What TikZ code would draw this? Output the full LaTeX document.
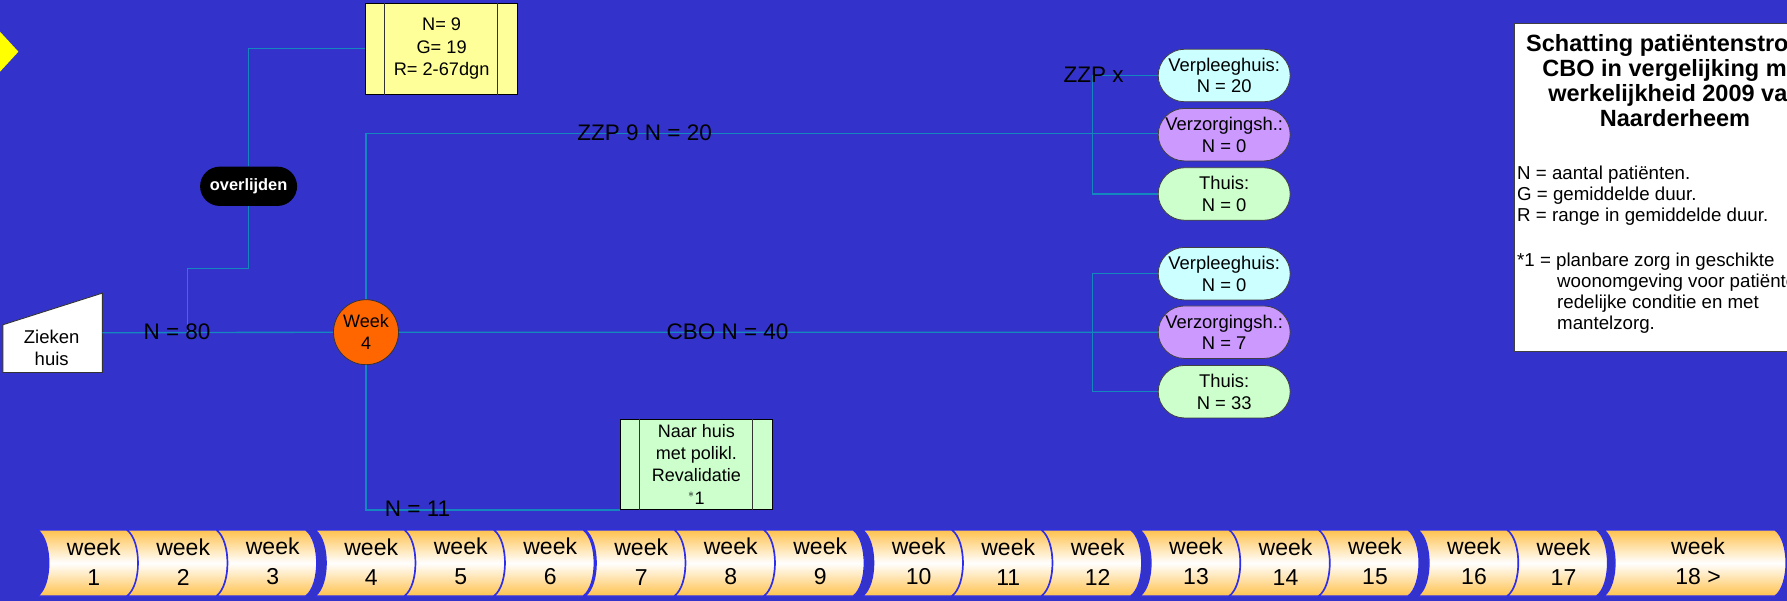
\documentclass[tikz,border=0pt]{standalone}
\usepackage{fontspec}
\setmainfont{Liberation Sans}
\usetikzlibrary{shapes.misc,calc}
\definecolor{bgc}{RGB}{51,51,204}
\definecolor{connc}{RGB}{20,136,190}
\definecolor{ylw}{RGB}{255,255,153}
\definecolor{lgreen}{RGB}{204,255,204}
\definecolor{lcyan}{RGB}{204,255,255}
\definecolor{lpurple}{RGB}{204,153,255}
\definecolor{orng}{RGB}{255,102,0}
\definecolor{barorange}{RGB}{255,194,78}
\definecolor{barline}{RGB}{45,45,235}
\definecolor{dmd}{RGB}{255,255,0}
\tikzset{
  connector/.style={draw=connc,line width=1.4pt},
  lbl/.style={font=\fontsize{22.5}{26}\selectfont,text=black,inner sep=0pt},
  capsule/.style={rounded rectangle,draw=black!75,line width=0.8pt,minimum width=132pt,minimum height=52.5pt,inner sep=0pt,align=center,font=\fontsize{18.4}{21.7}\selectfont},
  procbox/.style={rectangle,draw=black,line width=0.9pt,inner sep=0pt,align=center,font=\fontsize{18.2}{22.6}\selectfont},
  wktxt/.style={inner sep=0pt,align=center,font=\fontsize{23}{30}\selectfont},
  segm/.style={top color=barorange,bottom color=barorange,middle color=white,draw=barline,line width=1.2pt},
  legtxt/.style={anchor=base west,inner sep=0pt,font=\fontsize{18.7}{21}\selectfont}
}
\begin{document}
\begin{tikzpicture}[x=1pt,y=-1pt]
\useasboundingbox (0,0) rectangle (1787,601);
\clip (0,0) rectangle (1787,601);
\fill[bgc] (0,0) rectangle (1787,601);

% diamond at left edge
\fill[dmd] (18.4,51.7) -- (-5,26.3) -- (-28.4,51.7) -- (-5,77.1) -- cycle;

% nodes
\node[procbox,fill=ylw,minimum width=151.5pt,minimum height=91pt] (yb) at (441.6,48.8) {N= 9\\G= 19\\R= 2-67dgn};
\draw[black!80,line width=0.8pt] ([xshift=19.3pt]yb.north west) -- ([xshift=19.3pt]yb.south west)
  ([xshift=-20pt]yb.north east) -- ([xshift=-20pt]yb.south east);

\node[rounded rectangle,fill=black,minimum width=97pt,minimum height=39.3pt,inner sep=0pt,text=white,font=\bfseries\fontsize{16.4}{19}\selectfont] (ov) at (248.6,186.3) {overlijden};

\node[minimum width=99.2pt,minimum height=79pt,inner sep=0pt] (zh) at (52.6,332.8) {};
\draw[fill=white,draw=black!80,line width=0.9pt] (zh.south west) -- (zh.south east) -- (zh.north east) -- ($(zh.north west)+(0,31.7)$) -- cycle;
\node[inner sep=0pt,align=center,font=\fontsize{18.5}{22.3}\selectfont] (zht) at (51.7,347.9) {Zieken\\huis};

\node[circle,fill=orng,draw=black!80,line width=0.8pt,minimum size=65pt,inner sep=0pt,align=center,font=\fontsize{18}{22.3}\selectfont] (wk) at (366,332.2) {Week\\4};

\node[procbox,fill=lgreen,minimum width=152.7pt,minimum height=90.3pt,font=\fontsize{18}{22.2}\selectfont] (nh) at (696.4,464.2) {Naar huis\\met polikl.\\Revalidatie\\$^{*}$1};
\draw[black!80,line width=0.8pt] ([xshift=19.3pt]nh.north west) -- ([xshift=19.3pt]nh.south west)
  ([xshift=-20.4pt]nh.north east) -- ([xshift=-20.4pt]nh.south east);

\node[capsule,fill=lcyan] (a1) at (1224.2,75.5) {Verpleeghuis:\\N = 20};
\node[capsule,fill=lpurple] (a2) at (1224.2,134.7) {Verzorgingsh.:\\N = 0};
\node[capsule,fill=lgreen] (a3) at (1224.2,194) {Thuis:\\N = 0};
\node[capsule,fill=lcyan] (b1) at (1224.2,273.7) {Verpleeghuis:\\N = 0};
\node[capsule,fill=lpurple] (b2) at (1224.2,332.2) {Verzorgingsh.:\\N = 7};
\node[capsule,fill=lgreen] (b3) at (1224.2,391.7) {Thuis:\\N = 33};

% junction coordinates
\coordinate (j0) at (187.5,332.3);
\coordinate (j1) at (187.5,268.3);
\coordinate (jz) at (1092.3,133.3);
\coordinate (jc) at (1092.3,332.3);

% connectors
\draw[connector] (zh.east) -- (wk.west);
\draw[connector] (j0) -- (j1) -| (ov.south);
\draw[connector] (ov.north) |- (yb.west);
\draw[connector] (wk.north) |- (jz);
\draw[connector] (a1.west) -| (jz) |- (a3.west);
\draw[connector] (jz) -- (jz -| a2.west);
\draw[connector] (wk.east) -- (jc);
\draw[connector] (b1.west) -| (jc) |- (b3.west);
\draw[connector] (jc) -- (b2.west);
\draw[connector] (wk.south) |- (nh.south west);

% labels on lines
\node[lbl] (l80) at (177,331.7) {N = 80};
\node[lbl] (lz9) at (644.7,132.7) {ZZP 9 N = 20};
\node[lbl] (lzx) at (1093.5,75) {ZZP x};
\node[lbl] (lcbo) at (727.5,331.7) {CBO N = 40};
\node[lbl] (l11) at (417.5,508.3) {N = 11};

% legend
\node[rectangle,fill=white,draw=black!75,line width=0.9pt,minimum width=316pt,minimum height=328.4pt,inner sep=0pt] (leg) at (1672.3,187.5) {};
\node[inner sep=0pt,align=center,font=\bfseries\fontsize{23.5}{25}\selectfont] (legt) at (1675,80.5) {Schatting patiëntenstroom\\CBO in vergelijking met\\werkelijkheid 2009 van\\Naarderheem};
\node[legtxt] (lg1) at (1517,179.3) {N = aantal patiënten.};
\node[legtxt] (lg2) at (1517,200.3) {G = gemiddelde duur.};
\node[legtxt] (lg3) at (1517,221.3) {R = range in gemiddelde duur.};
\node[legtxt] (lg4) at (1517,266.8) {*1 = planbare zorg in geschikte};
\node[legtxt] (lg5) at (1557,287.8) {woonomgeving voor patiënten met};
\node[legtxt] (lg6) at (1557,308.8) {redelijke conditie en met};
\node[legtxt] (lg7) at (1557,329.8) {mantelzorg.};

% week bar
\foreach \t/\n in {93.8/1,183.2/2,272.7/3,371.2/4,460.7/5,550.2/6,641.2/7,730.7/8,820.2/9,918.7/10,1008.2/11,1097.7/12,1196/13,1285.5/14,1375/15,1474/16,1563.5/17}{
  \path[segm] (\t-56,530) -- (\t+33,530) .. controls (\t+47.7,541) and (\t+47.7,585) .. (\t+33,596)
     -- (\t-56,596) .. controls (\t-41.3,585) and (\t-41.3,541) .. (\t-56,530) -- cycle;
  \node[wktxt] (w\n) at (\t,561.7) {week\\\n};
}
\path[segm] (1604,530) -- (1775,530) .. controls (1789.7,541) and (1789.7,585) .. (1775,596)
   -- (1604,596) .. controls (1618.7,585) and (1618.7,541) .. (1604,530) -- cycle;
\node[wktxt] (w18) at (1698,561.7) {week\\18 >};
\end{tikzpicture}
\end{document}
